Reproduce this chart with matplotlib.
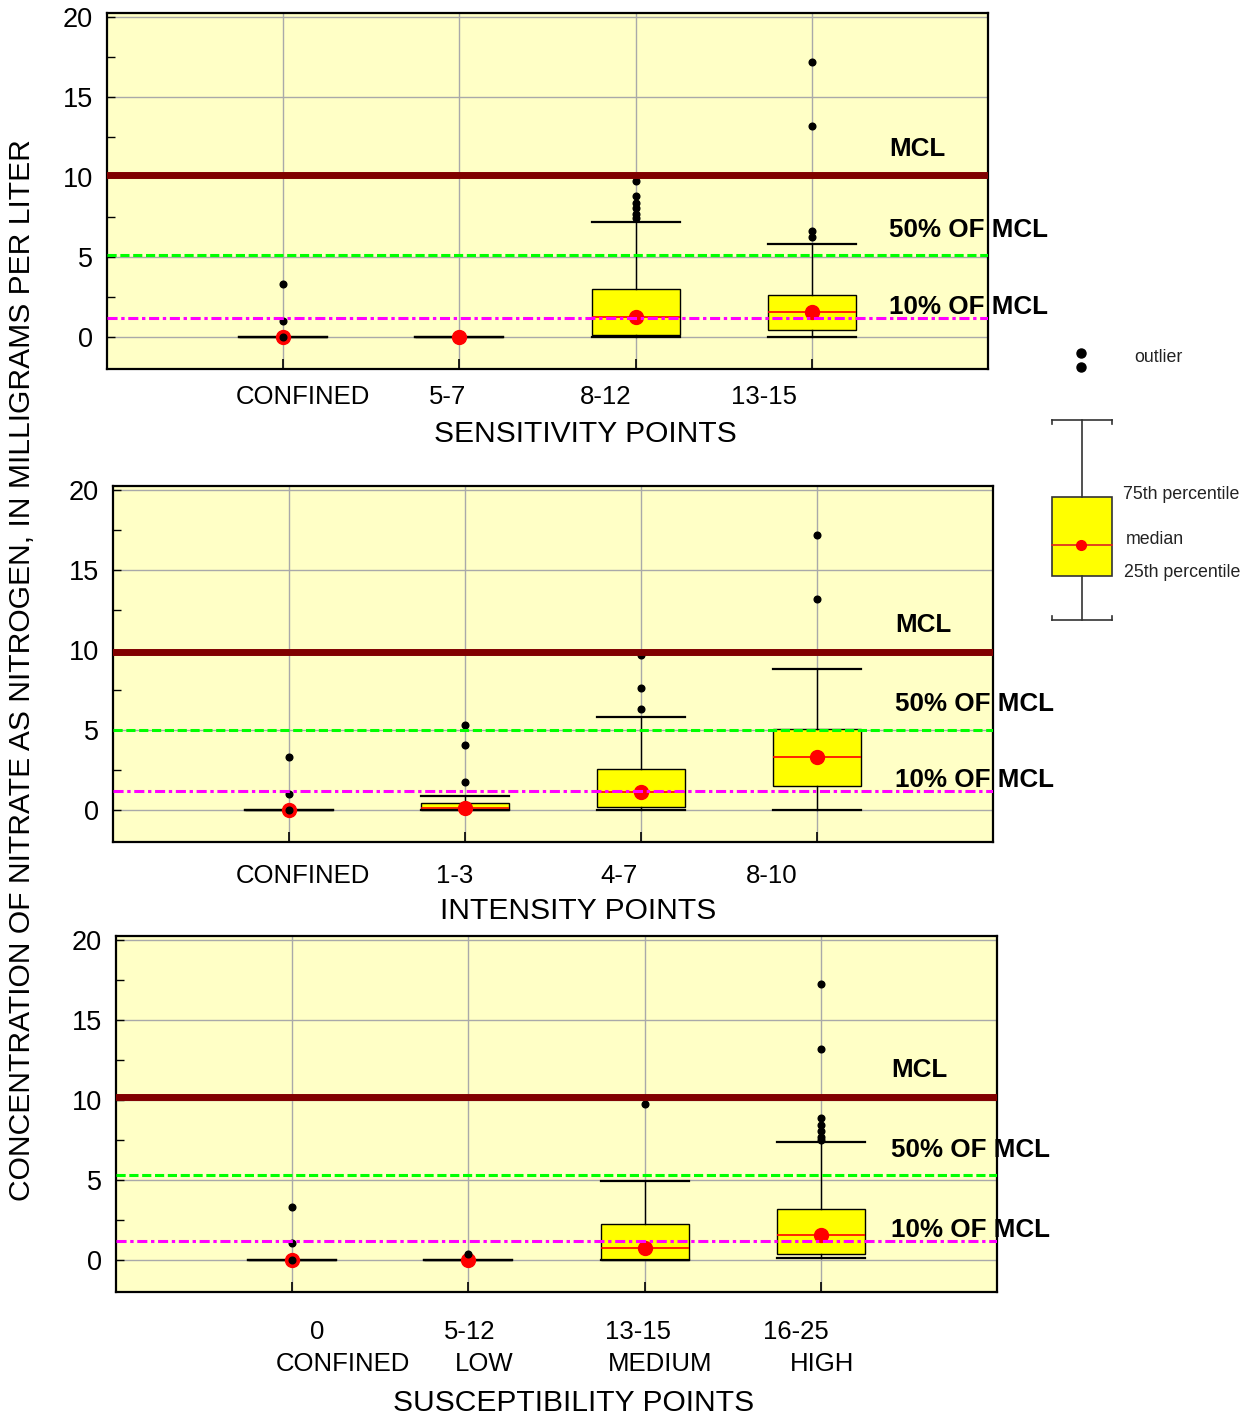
import matplotlib
matplotlib.use("Agg")
import matplotlib.pyplot as plt
from matplotlib.ticker import MultipleLocator
from matplotlib.transforms import blended_transform_factory
from matplotlib.patches import Rectangle

plt.rcParams['font.family'] = ['Liberation Sans', 'DejaVu Sans']

# ---------------- data ----------------
positions = [1, 2, 3, 4]

sens_labels = ["CONFINED", "5-7", "8-12", "13-15"]
sens_q1 = [0.0, 0.0, 0.12, 0.44]
sens_med = [0.0, 0.0, 1.27, 1.56]
sens_q3 = [0.0, 0.0, 2.98, 2.62]
sens_whislo = [0.0, 0.0, 0.0, 0.0]
sens_whishi = [0.0, 0.0, 7.17, 5.79]
sens_fliers = [[3.3, 1.0, 0.0], [], [9.75, 8.83, 8.35, 8.04, 7.67, 7.42],
               [17.2, 13.2, 6.6, 6.23]]

int_labels = ["CONFINED", "1-3", "4-7", "8-10"]
int_q1 = [0.0, 0.03, 0.17, 1.52]
int_med = [0.0, 0.1, 1.15, 3.29]
int_q3 = [0.0, 0.42, 2.54, 5.06]
int_whislo = [0.0, 0.0, 0.0, 0.0]
int_whishi = [0.0, 0.85, 5.81, 8.79]
int_fliers = [[3.33, 1.0, 0.0], [5.3, 4.06, 1.73], [9.7, 7.6, 6.29], [17.2, 13.2]]

sus_labels = ["0", "5-12", "13-15", "16-25"]
sus_classes = ["CONFINED", "LOW", "MEDIUM", "HIGH"]
sus_q1 = [0.0, 0.0, 0.0, 0.37]
sus_med = [0.0, 0.0, 0.77, 1.54]
sus_q3 = [0.0, 0.0, 2.25, 3.17]
sus_whislo = [0.0, 0.0, 0.0, 0.1]
sus_whishi = [0.0, 0.0, 4.94, 7.36]
sus_fliers = [[3.33, 1.04, 0.0], [0.37], [9.77],
              [17.25, 13.2, 8.85, 8.44, 8.06, 7.69, 7.5]]

ref_texts = ["MCL", "50% OF MCL", "10% OF MCL"]
sens_ref = [10.1, 5.1, 1.2]
int_ref = [9.9, 5.0, 1.2]
sus_ref = [10.2, 5.3, 1.2]

xlabels = ["SENSITIVITY POINTS", "INTENSITY POINTS", "SUSCEPTIBILITY POINTS"]
ylabel = "CONCENTRATION OF NITRATE AS NITROGEN, IN MILLIGRAMS PER LITER"

# ---------------- layout / style ----------------
W, H = 1256, 1420
BG = "#FFFFC6"
GRID = "#A9A9A9"
ref_colors = ["#800000", "#00FF00", "#FF00FF"]
ref_styles = ["-", (0, (3.0, 1.2)), (0, (3.3, 1.2, 1.1, 1.2))]
ref_widths = [5.0, 2.2, 2.2]
ref_text_dy = [1.65, 1.6, 0.65]


def px_rect(left, top, right, bottom):
    return [left / W, 1 - bottom / H, (right - left) / W, (bottom - top) / H]


panels = [
    dict(rect=px_rect(107, 13, 988, 369), labels=sens_labels, q1=sens_q1, med=sens_med,
         q3=sens_q3, lo=sens_whislo, hi=sens_whishi, fl=sens_fliers, ref=sens_ref,
         lab_off=[0.11, -0.07, -0.17, -0.27], lab_y=-0.079,
         xlabel=xlabels[0], xl_x=0.543, xl_y=-0.183, ann_x=0.888),
    dict(rect=px_rect(113, 486, 993, 842), labels=int_labels, q1=int_q1, med=int_med,
         q3=int_q3, lo=int_whislo, hi=int_whishi, fl=int_fliers, ref=int_ref,
         lab_off=[0.08, -0.06, -0.125, -0.26], lab_y=-0.096,
         xlabel=xlabels[1], xl_x=0.528, xl_y=-0.194, ann_x=0.889),
    dict(rect=px_rect(116, 936, 997, 1292), labels=sus_labels, q1=sus_q1, med=sus_med,
         q3=sus_q3, lo=sus_whislo, hi=sus_whishi, fl=sus_fliers, ref=sus_ref,
         lab_off=[0.14, 0.01, -0.04, -0.14], lab_y=-0.112,
         labels2=sus_classes, lab_off2=[0.29, 0.09, 0.09, 0.01], lab_y2=-0.202,
         xlabel=xlabels[2], xl_x=0.519, xl_y=-0.312, ann_x=0.880),
]

fig = plt.figure(figsize=(W / 100, H / 100), dpi=100)

for p in panels:
    ax = fig.add_axes(p["rect"], facecolor=BG)
    stats = [dict(med=m, q1=a, q3=b, whislo=lo, whishi=hi, fliers=f)
             for m, a, b, lo, hi, f in zip(p["med"], p["q1"], p["q3"], p["lo"], p["hi"], p["fl"])]
    ax.bxp(stats, positions=positions, widths=0.5, capwidths=0.5, patch_artist=True,
           showfliers=True, manage_ticks=False,
           boxprops=dict(facecolor="#FFFF00", edgecolor="black", linewidth=1.0, zorder=2),
           medianprops=dict(color="red", linewidth=1.2, zorder=2.05),
           whiskerprops=dict(color="black", linewidth=1.0, zorder=2.1),
           capprops=dict(color="black", linewidth=1.6, zorder=2.2),
           flierprops=dict(marker="o", markerfacecolor="black", markeredgecolor="black",
                           markersize=4.8, linestyle="none", zorder=4))
    ax.plot(positions, p["med"], "o", color="red", markersize=10, zorder=3.5,
            linestyle="none")

    mixed = blended_transform_factory(ax.transAxes, ax.transData)
    for lvl, col, ls, lw, txt, dy in zip(p["ref"], ref_colors, ref_styles, ref_widths,
                                         ref_texts, ref_text_dy):
        ax.axhline(lvl, color=col, linestyle=ls, linewidth=lw, zorder=5)
        ax.text(p["ann_x"], lvl + dy, txt, transform=mixed, fontsize=18.7,
                fontweight="bold", ha="left", va="center", clip_on=False, zorder=6)

    ax.set_xlim(0, 5)
    ax.set_ylim(-2, 20.25)
    ax.set_xticks(positions)
    ax.set_xticklabels([])
    ax.yaxis.set_minor_locator(MultipleLocator(2.5))
    ax.set_yticks([0, 5, 10, 15, 20])
    ax.grid(True, which="major", color=GRID, linewidth=1.0, zorder=0)
    ax.set_axisbelow(True)
    ax.tick_params(axis="y", which="both", direction="in", length=6, width=1,
                   labelsize=19.5, pad=10)
    ax.tick_params(axis="x", which="major", direction="in", length=7, width=1.2)
    for s in ax.spines.values():
        s.set_linewidth(1.6)
        s.set_color("black")

    bt = blended_transform_factory(ax.transData, ax.transAxes)
    for pos, lab, off in zip(positions, p["labels"], p["lab_off"]):
        ax.text(pos + off, p["lab_y"], lab, transform=bt, ha="center", va="center",
                fontsize=18.5)
    if "labels2" in p:
        for pos, lab, off in zip(positions, p["labels2"], p["lab_off2"]):
            ax.text(pos + off, p["lab_y2"], lab, transform=bt, ha="center", va="center",
                    fontsize=18.5)
    ax.text(p["xl_x"], p["xl_y"], p["xlabel"], transform=ax.transAxes, ha="center",
            va="center", fontsize=21.6)

fig.text(22 / W, 1 - 670 / H, ylabel, rotation=90, ha="center", va="center", fontsize=21.6)

# ---------------- explanation key ----------------
lk = fig.add_axes(px_rect(1040, 340, 1256, 630))
lk.set_xlim(1040, 1256)
lk.set_ylim(630, 340)
lk.axis("off")
lk.plot([1081, 1081], [353, 367], "o", color="black", markersize=6.5, linestyle="none")
lk.text(1134, 357, "outlier", fontsize=12.8, va="center", ha="left", color="#222222")
lk.plot([1082, 1082], [420, 497], color="#333333", lw=1.2)
lk.plot([1052, 1112], [420, 420], color="#333333", lw=1.2)
lk.plot([1052, 1052], [420, 424], color="#333333", lw=1.2)
lk.plot([1112, 1112], [420, 424], color="#333333", lw=1.2)
lk.plot([1082, 1082], [576, 620], color="#333333", lw=1.2)
lk.plot([1052, 1112], [620, 620], color="#333333", lw=1.2)
lk.plot([1052, 1052], [616, 620], color="#333333", lw=1.2)
lk.plot([1112, 1112], [616, 620], color="#333333", lw=1.2)
lk.add_patch(Rectangle((1052, 497), 60, 79, facecolor="#FFFF00", edgecolor="#333333", lw=1.2))
lk.plot([1052, 1112], [545, 545], color="#DD2222", lw=1.2)
lk.plot([1081], [545], "o", color="red", markersize=7)
lk.text(1123, 494, "75th percentile", fontsize=12.8, va="center", ha="left", color="#222222")
lk.text(1126, 539, "median", fontsize=12.8, va="center", ha="left", color="#222222")
lk.text(1124, 572, "25th percentile", fontsize=12.8, va="center", ha="left", color="#222222")

fig.savefig("out.png", dpi=100)
